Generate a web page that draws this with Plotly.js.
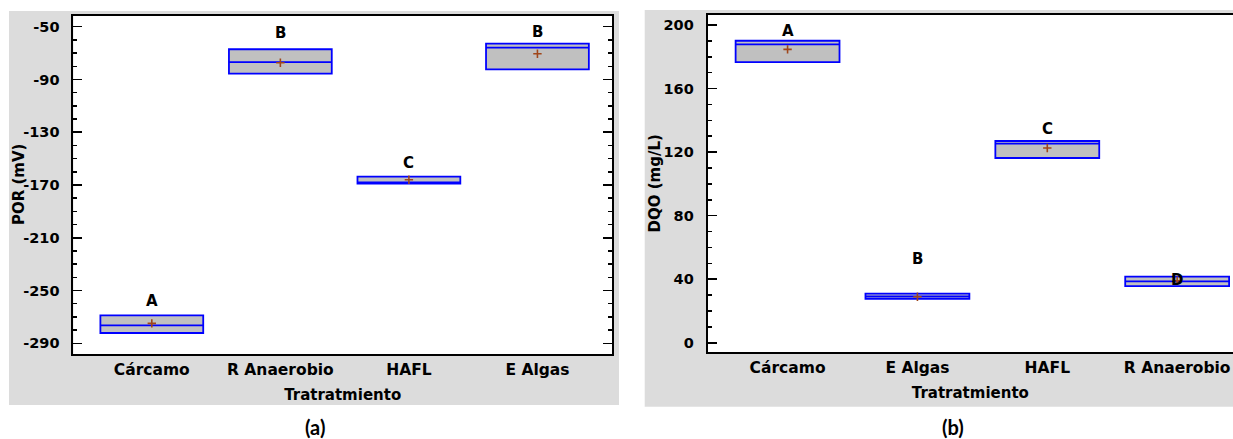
<!DOCTYPE html>
<html>
<head>
<meta charset="utf-8">
<script src="https://cdn.plot.ly/plotly-3.0.1.min.js"></script>
<style>html,body{margin:0;padding:0;background:#fff;}#chart{width:1233px;height:439px;}</style>
</head>
<body>
<div id="chart"></div>
<script>
// ---- Panel (a): POR (mV)
const catsPOR = ['Cárcamo', 'R Anaerobio', 'HAFL', 'E Algas'];
const porMin = [-282.2, -85.6, -169.0, -82.3];
const porMed = [-276.4, -76.8, -168.0, -65.9];
const porMax = [-268.8, -67.1, -163.7, -62.9];
const porMean = [-274.9, -77.3, -166.0, -70.5];
const porLetters = ['A', 'B', 'C', 'B'];
const porLetterY = [-258, -55, -153.6, -53.8];
const porTicks = [-50, -90, -130, -170, -210, -250, -290];
const porTickText = ['-50', '-90', '-130', '-170', '-210', '-250', '-290'];

// ---- Panel (b): DQO (mg/L)
const catsDQO = ['Cárcamo', 'E Algas', 'HAFL', 'R Anaerobio'];
const dqoMin = [176.7, 27.7, 116.3, 35.7];
const dqoMed = [187.8, 29.2, 125.3, 38.6];
const dqoMax = [190.1, 30.9, 127.0, 41.6];
const dqoMean = [184.7, 29.0, 122.6, 39.0];
const dqoLetters = ['A', 'B', 'C', 'D'];
const dqoLetterY = [196.4, 52.7, 134.5, 39.5];
const dqoTicks = [0, 40, 80, 120, 160, 200];
const dqoTickText = ['0', '40', '80', '120', '160', '200'];

const FONT = '"DejaVu Sans", "Liberation Sans", Arial, sans-serif';
const W = 1233, H = 439;
const px = v => v / W;
const py = v => 1 - v / H;
const b = s => '<b>' + s + '</b>';

function boxTrace(cats, lo, med, hi, xa, ya) {
  return {
    type: 'box', x: cats, q1: lo, median: med, q3: hi,
    lowerfence: lo, upperfence: hi,
    width: 0.8, whiskerwidth: 0.24,
    fillcolor: '#c0c0c0',
    line: {color: '#0000ff', width: 1.8},
    boxpoints: false, hoverinfo: 'skip',
    xaxis: xa, yaxis: ya
  };
}
function meanTrace(cats, means, xa, ya) {
  return {
    type: 'scatter', mode: 'markers', x: cats, y: means,
    marker: {symbol: 'cross-thin', size: 6, line: {color: '#a0461a', width: 1.6}},
    hoverinfo: 'skip', xaxis: xa, yaxis: ya
  };
}

const data = [
  boxTrace(catsPOR, porMin, porMed, porMax, 'x', 'y'),
  meanTrace(catsPOR, porMean, 'x', 'y'),
  boxTrace(catsDQO, dqoMin, dqoMed, dqoMax, 'x2', 'y2'),
  meanTrace(catsDQO, dqoMean, 'x2', 'y2')
];

const tickFont = {family: FONT, size: 14.5, color: '#000', weight: 'bold'};
const catFont = {family: FONT, size: 15.5, color: '#000', weight: 'bold'};
const titleFont = {family: FONT, size: 15, color: '#000', weight: 'bold'};

function xAxis(cats, domain, range, mirror) {
  return {
    domain: domain, range: range, type: 'category',
    categoryorder: 'array', categoryarray: cats,
    tickmode: 'array', tickvals: cats, ticktext: cats,
    showline: true, linecolor: '#000', linewidth: 2, mirror: mirror,
    ticks: '', showgrid: false, zeroline: false,
    tickfont: catFont, ticklabelstandoff: 0,
    title: {text: 'Tratratmiento', font: titleFont, standoff: 12},
    fixedrange: true
  };
}
function yAxis(domain, range, tickvals, ticktext, mirror, anchor) {
  return {
    domain: domain, range: range, anchor: anchor,
    tickmode: 'array', tickvals: tickvals, ticktext: ticktext.map(b),
    ticks: 'inside', ticklen: 9, tickwidth: 1.5, tickcolor: '#000',
    minor: {tickmode: 'linear', tick0: tickvals[0], dtick: 10, ticks: 'inside', ticklen: 4,
            tickwidth: 1.5, tickcolor: '#000', showgrid: false},
    showline: true, linecolor: '#000', linewidth: 2, mirror: mirror,
    showgrid: false, zeroline: false,
    tickfont: tickFont, ticklabelstandoff: 9,
    fixedrange: true
  };
}

const annotations = [];
catsPOR.forEach((c, i) => annotations.push({
  x: c, y: porLetterY[i], xref: 'x', yref: 'y', text: porLetters[i],
  showarrow: false, yanchor: 'middle', font: {family: FONT, size: 15, color: '#000', weight: 'bold'}
}));
catsDQO.forEach((c, i) => annotations.push({
  x: c, y: dqoLetterY[i], xref: 'x2', yref: 'y2', text: dqoLetters[i],
  showarrow: false, yanchor: 'middle', font: {family: FONT, size: 15, color: '#000', weight: 'bold'}
}));
// y-axis titles
annotations.push({x: px(19), y: (py(354) + py(16)) / 2, xref: 'paper', yref: 'paper', text: 'POR (mV)',
  textangle: -90, showarrow: false, xanchor: 'center', yanchor: 'middle', font: titleFont});
annotations.push({x: px(654), y: (py(352.3) + py(14.7)) / 2, xref: 'paper', yref: 'paper', text: 'DQO (mg/L)',
  textangle: -90, showarrow: false, xanchor: 'center', yanchor: 'middle', font: titleFont});
// panel labels
annotations.push({x: px(315), y: py(427), xref: 'paper', yref: 'paper', text: b('(a)'), showarrow: false,
  xanchor: 'center', yanchor: 'middle',
  font: {family: 'Lato, "Open Sans", sans-serif', size: 20, color: '#000', weight: 'bold'}});
annotations.push({x: px(953), y: py(427), xref: 'paper', yref: 'paper', text: b('(b)'), showarrow: false,
  xanchor: 'center', yanchor: 'middle',
  font: {family: 'Lato, "Open Sans", sans-serif', size: 20, color: '#000', weight: 'bold'}});

const layout = {
  width: W, height: H,
  margin: {l: 0, r: 0, t: 0, b: 0},
  paper_bgcolor: '#fff', plot_bgcolor: '#fff',
  showlegend: false,
  xaxis: xAxis(catsPOR, [px(73.4), px(612)], [-0.61, 3.58], true),
  yaxis: yAxis([py(354), py(16)], [-298.1, -41.9], porTicks, porTickText, 'ticks', 'x'),
  xaxis2: Object.assign(xAxis(catsDQO, [px(707.7), 1], [-0.615, 3.43], true), {anchor: 'y2'}),
  yaxis2: yAxis([py(352.3), py(14.7)], [-6, 206.5], dqoTicks, dqoTickText, false, 'x2'),
  shapes: [
    {type: 'rect', xref: 'paper', yref: 'paper', x0: px(9), x1: px(619), y0: py(405), y1: py(11),
     fillcolor: '#dcdcdc', line: {width: 0}, layer: 'below'},
    {type: 'rect', xref: 'paper', yref: 'paper', x0: px(644.7), x1: 1, y0: py(406.7), y1: py(10),
     fillcolor: '#dcdcdc', line: {width: 0}, layer: 'below'},
    {type: 'rect', xref: 'x domain', yref: 'y domain', x0: 0, x1: 1, y0: 0, y1: 1,
     fillcolor: '#fff', line: {width: 0}, layer: 'below'},
    {type: 'rect', xref: 'x2 domain', yref: 'y2 domain', x0: 0, x1: 1, y0: 0, y1: 1,
     fillcolor: '#fff', line: {width: 0}, layer: 'below'}
  ],
  annotations: annotations
};

Plotly.newPlot('chart', data, layout, {staticPlot: true, displayModeBar: false});
</script>
</body>
</html>
